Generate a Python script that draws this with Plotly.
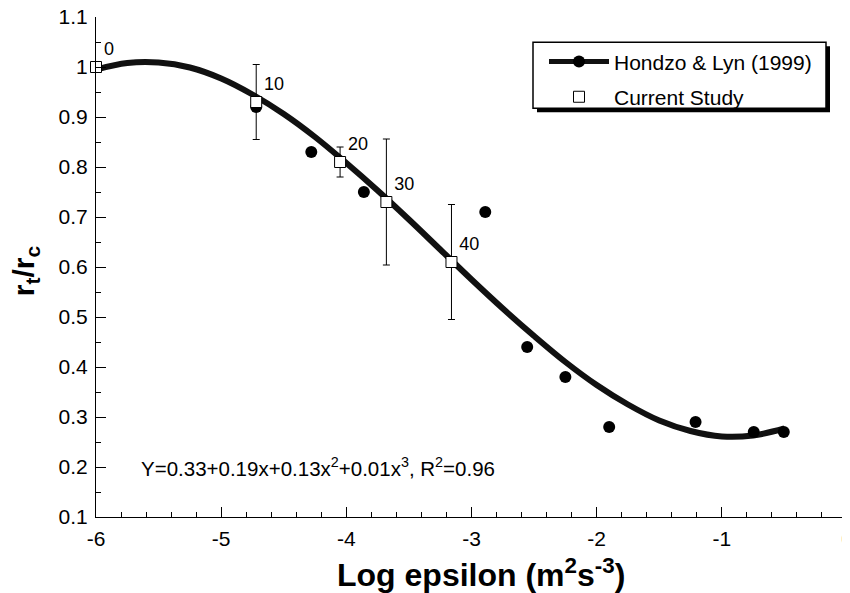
import plotly.graph_objects as go

# ---------------- data ----------------
curve_x = [-6, -5.75, -5.5, -5.25, -5, -4.75, -4.5, -4.25, -4, -3.75, -3.5, -3.25,
           -3, -2.75, -2.5, -2.25, -2, -1.75, -1.5, -1.25, -1, -0.75, -0.5]
curve_y = [0.995, 1.008, 1.009, 0.999, 0.977, 0.945, 0.906, 0.860, 0.808, 0.753, 0.695, 0.635,
           0.575, 0.517, 0.462, 0.410, 0.364, 0.325, 0.293, 0.272, 0.261, 0.263, 0.277]

hondzo_x = [-4.72, -4.28, -3.86, -2.89, -2.555, -2.25, -1.90, -1.21, -0.745, -0.505]
hondzo_y = [0.92, 0.83, 0.75, 0.71, 0.44, 0.38, 0.28, 0.29, 0.27, 0.27]

study_x = [-6.0, -4.72, -4.05, -3.68, -3.16]
study_y = [1.0, 0.93, 0.81, 0.73, 0.61]
study_err = [0.0, 0.075, 0.03, 0.126, 0.115]
study_labels = ["0", "10", "20", "30", "40"]

x_ticks = [-6, -5, -4, -3, -2, -1, 0]
x_tick_text = ["-6", "-5", "-4", "-3", "-2", "-1", "0"]
y_ticks = [0.1, 0.2, 0.3, 0.4, 0.5, 0.6, 0.7, 0.8, 0.9, 1.0, 1.1]
y_tick_text = ["0.1", "0.2", "0.3", "0.4", "0.5", "0.6", "0.7", "0.8", "0.9", "1", "1.1"]

equation = "Y=0.33+0.19x+0.13x<sup>2</sup>+0.01x<sup>3</sup>, R<sup>2</sup>=0.96"

FONT = "Liberation Sans, Arial, sans-serif"

# The page body has an 8px margin, so the figure is sized/offset to compensate.
OFF = 8
W, H = 850 - OFF, 593 - OFF
# target plot area in page pixels: x 96..847, y 16.7..516.7
ML = 96 - OFF
MR = W - (847 - OFF)
MT = 16.7 - OFF
MB = H - (516.7 - OFF)
PW = W - ML - MR
PH = H - MT - MB


def px_x(px):
    """page pixel x -> paper coordinate"""
    return (px - OFF - ML) / PW


def px_y(py):
    """page pixel y -> paper coordinate"""
    return (H - MB - (py - OFF)) / PH


fig = go.Figure()

# fitted curve
fig.add_trace(go.Scatter(
    x=curve_x, y=curve_y, mode="lines", line=dict(color="#111111", width=6, shape="spline"),
    showlegend=False, hoverinfo="skip"))

# Hondzo & Lyn points
fig.add_trace(go.Scatter(
    x=hondzo_x, y=hondzo_y, mode="markers",
    marker=dict(symbol="circle", size=12, color="#000000"),
    showlegend=False, cliponaxis=False))

# legend entry for Hondzo & Lyn (line + marker)
fig.add_trace(go.Scatter(
    x=[None], y=[None], mode="lines+markers", name="Hondzo & Lyn (1999)",
    legendgroup="a",
    line=dict(color="#111111", width=5),
    marker=dict(symbol="circle", size=12, color="#000000")))

# current study
fig.add_trace(go.Scatter(
    x=study_x, y=study_y, mode="markers+text", name="Current Study",
    legendgroup="b",
    text=study_labels, textposition="top right",
    textfont=dict(family=FONT, size=18, color="#000000"),
    marker=dict(symbol="square", size=11, color="white", line=dict(color="#000000", width=1)),
    error_y=dict(type="data", array=study_err, visible=True, color="#000000", thickness=1, width=3.5),
    cliponaxis=False))

# legend box with drop shadow
lx0, lx1, ly0, ly1 = 533, 826, 42, 108
sh = 4
shapes = [
    dict(type="rect", xref="paper", yref="paper",
         x0=px_x(lx0 + sh), x1=px_x(lx1 + sh), y0=px_y(ly1 + sh), y1=px_y(ly0 + sh),
         fillcolor="#000000", line=dict(width=0), layer="above"),
    dict(type="rect", xref="paper", yref="paper",
         x0=px_x(lx0), x1=px_x(lx1), y0=px_y(ly1), y1=px_y(ly0),
         fillcolor="white", line=dict(color="#000000", width=1.5), layer="above"),
]

annotations = [
    dict(text=equation, xref="paper", yref="paper", x=px_x(139), y=px_y(467),
         xanchor="left", yanchor="middle", showarrow=False,
         font=dict(family=FONT, size=20.5, color="#000000")),
    dict(text="<b>Log epsilon (m<sup>2</sup>s<sup>-3</sup>)</b>", xref="paper", yref="paper",
         x=px_x(481), y=px_y(573), xanchor="center", yanchor="middle", showarrow=False,
         font=dict(family=FONT, size=32, color="#000000")),
    dict(text="<b>r<sub>t</sub>/r<sub>c</sub></b>", xref="paper", yref="paper",
         x=px_x(25), y=px_y(271), xanchor="center", yanchor="middle", showarrow=False,
         textangle=-90, font=dict(family=FONT, size=30, color="#000000")),
]

fig.update_layout(
    width=W, height=H,
    margin=dict(l=ML, r=MR, t=MT, b=MB, autoexpand=False),
    paper_bgcolor="white", plot_bgcolor="white",
    font=dict(family=FONT, size=21, color="#000000"),
    shapes=shapes,
    annotations=annotations,
    showlegend=True,
    legend=dict(x=px_x(544), y=px_y(41), xanchor="left", yanchor="top",
                bgcolor="rgba(0,0,0,0)", borderwidth=0,
                font=dict(family=FONT, size=21, color="#000000"),
                itemwidth=60, tracegroupgap=5),
)

fig.update_xaxes(
    range=[-6, 0], tickvals=x_ticks, ticktext=x_tick_text, automargin=False,
    ticklabeloverflow="allow",
    showline=True, linecolor="#000000", linewidth=1, showgrid=False, zeroline=False,
    ticks="inside", ticklen=10, tickwidth=1, tickcolor="#000000",
    ticklabelstandoff=3,
    minor=dict(ticks="inside", ticklen=5, tickwidth=1, tickcolor="#000000", dtick=0.2, tick0=-6, showgrid=False),
    tickfont=dict(family=FONT, size=21, color="#000000"),
)
fig.update_yaxes(
    range=[0.1, 1.1], tickvals=y_ticks, ticktext=y_tick_text, automargin=False,
    ticklabeloverflow="allow",
    showline=True, linecolor="#000000", linewidth=1, showgrid=False, zeroline=False,
    ticks="inside", ticklen=10, tickwidth=1, tickcolor="#000000",
    ticklabelstandoff=3,
    minor=dict(ticks="inside", ticklen=5, tickwidth=1, tickcolor="#000000", dtick=0.05, tick0=0.1, showgrid=False),
    tickfont=dict(family=FONT, size=21, color="#000000"),
)

fig.write_html("out.html")
